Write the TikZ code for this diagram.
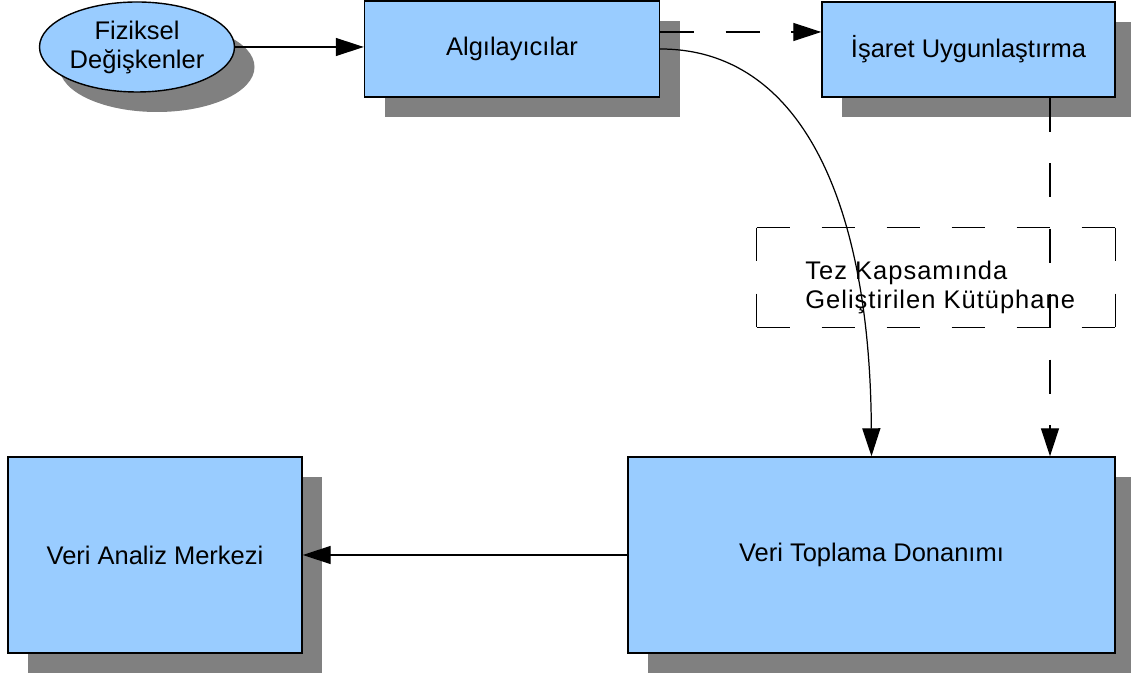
\documentclass[tikz,border=0pt]{standalone}
\usepackage{fontspec}
\setmainfont{Liberation Sans}
\definecolor{kutu}{HTML}{99CCFF}
\definecolor{golge}{HTML}{808080}
\usetikzlibrary{arrows.meta,calc,shadows,shapes.geometric}

\begin{document}
\begin{tikzpicture}[x=0.2mm,y=-0.2mm,
  yazi/.style={font=\fontsize{14.5}{16.5}\selectfont},
  blok/.style={yazi,draw,fill=kutu,line width=0.8pt,inner sep=0pt,align=center,
    drop shadow={shadow xshift=4mm,shadow yshift=-4mm,fill=golge,opacity=1}},
  ok/.style={-{Triangle[length=5.6mm,width=3.6mm]},line width=0.7pt},
  kesik/.style={dash pattern=on 6.8mm off 6.3mm},
  kesikyatay/.style={line width=0.8pt,dash pattern=on 6.6mm off 6.4mm},
  kesikdikey/.style={line width=0.8pt,dash pattern=on 6.6mm off 6.6mm}]
\useasboundingbox (0,0) rectangle (1131,677);
\node[blok,ellipse,minimum width=39mm,minimum height=18mm] (fiz) at (137,47) {Fiziksel\\Değişkenler};
\node[blok,minimum width=59mm,minimum height=19.2mm] (alg) at (512,49) {Algılayıcılar};
\node[blok,minimum width=58.6mm,minimum height=19mm] (isaret) at (968.5,49.5) {İşaret Uygunlaştırma};
\node[blok,minimum width=58.8mm,minimum height=39.2mm] (analiz) at (155,555) {Veri Analiz Merkezi};
\node[blok,minimum width=97.4mm,minimum height=39.2mm] (toplama) at (871.5,555) {Veri Toplama Donanımı};
% kesikli kutu, her kenar ayri cizilir
\node[minimum width=71.6mm,minimum height=19.8mm] (kutup) at (936,277.5) {};
\draw[kesikyatay] (kutup.north west) -- (kutup.north east);
\draw[kesikyatay] (kutup.south west) -- (kutup.south east);
\draw[kesikdikey] (kutup.north west) -- (kutup.south west);
\draw[kesikdikey] (kutup.north east) -- (kutup.south east);
\node[yazi,align=left,anchor=west,inner sep=0pt] (kutupyazi) at (805,287)
  {\addfontfeatures{LetterSpace=4}Tez Kapsamında\\\addfontfeatures{LetterSpace=4}Geliştirilen Kütüphane};
% baglantilar
\draw[ok] (fiz.east) -- (fiz.east -| alg.west);
\coordinate (d1) at ($(alg.east)+(0,-17)$);
\draw[ok,kesik] (d1) -- (d1 -| isaret.west);
\draw[ok] (alg.east) .. controls (800,49) and (870,200) .. (toplama.north);
\coordinate (d2) at ($(isaret.south)+(81.5,0)$);
\draw[ok,kesik] (d2) -- (d2 |- toplama.north);
\draw[ok] (toplama.west) -- (analiz.east);
\end{tikzpicture}
\end{document}
